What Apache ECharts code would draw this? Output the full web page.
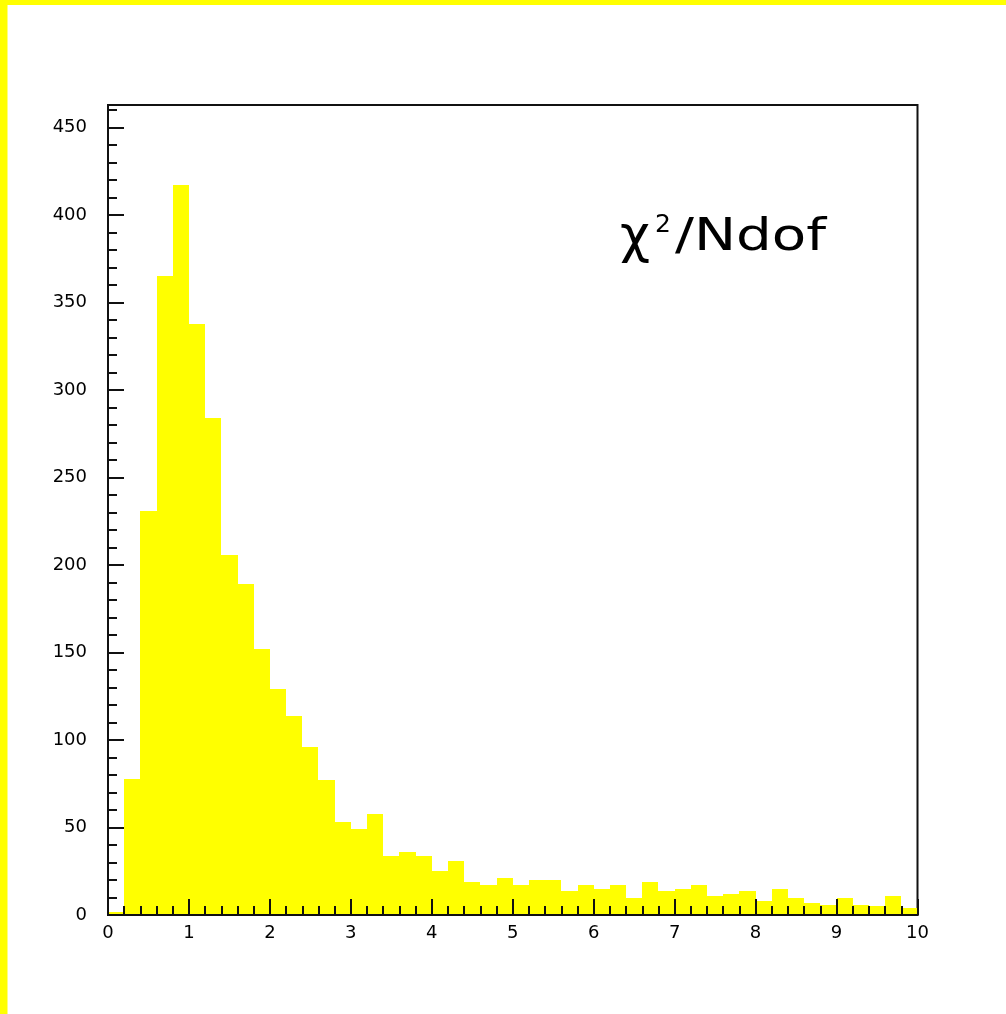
<!DOCTYPE html>
<html>
<head>
<meta charset="utf-8">
<title>chi2/Ndof distribution</title>
<script src="https://cdn.jsdelivr.net/npm/echarts@6/dist/echarts.min.js"></script>
<style>
  html, body { margin: 0; padding: 0; background: #ffffff; }
  #chart { width: 1006px; height: 1014px; }
</style>
</head>
<body>
<div id="chart"></div>
<script>
// Histogram of chi^2 / Ndof: 50 bins of width 0.2 from 0 to 10
const binLow = 0;
const binWidth = 0.2;
const counts = [
  2, 78, 231, 365, 417, 338, 284, 206, 189, 152,
  129, 114, 96, 77, 53, 49, 58, 34, 36, 34,
  25, 31, 19, 17, 21, 17, 20, 20, 14, 17,
  15, 17, 10, 19, 14, 15, 17, 11, 12, 14,
  8, 15, 10, 7, 6, 10, 6, 5, 11, 4
];
const xTickLabels = [0, 1, 2, 3, 4, 5, 6, 7, 8, 9, 10];
const yTickLabels = [0, 50, 100, 150, 200, 250, 300, 350, 400, 450];
const yMax = 463;

const bins = counts.map((c, i) => [binLow + i * binWidth, binLow + (i + 1) * binWidth, c]);

const INK = '#111111';
const FILL = '#ffff00';
const labelFont = { fontFamily: 'DejaVu Sans', fontSize: 18, color: '#000000' };

const chart = echarts.init(document.getElementById('chart'), null, { renderer: 'canvas' });

chart.setOption({
  animation: false,
  backgroundColor: '#ffffff',
  grid: {
    show: true,
    left: 108, top: 105, right: 88.5, bottom: 99,
    borderColor: INK, borderWidth: 2,
    backgroundColor: 'transparent',
    containLabel: false
  },
  xAxis: {
    type: 'value',
    z: 5,
    min: xTickLabels[0], max: xTickLabels[xTickLabels.length - 1], interval: 1,
    axisLine: { show: true, onZero: false, lineStyle: { color: INK, width: 2 } },
    axisTick: { show: true, inside: true, length: 16, lineStyle: { color: INK, width: 2 } },
    minorTick: { show: true, splitNumber: 5, length: 9, lineStyle: { color: INK, width: 2 } },
    splitLine: { show: false },
    axisLabel: Object.assign({ margin: 9, showMaxLabel: true, showMinLabel: true }, labelFont)
  },
  yAxis: [
    {
      // fine ticks every 10, labels every 50
      type: 'value',
      z: 5,
      min: 0, max: yMax, interval: 10,
      axisLine: { show: true, onZero: false, lineStyle: { color: INK, width: 2 } },
      axisTick: { show: true, inside: true, length: 9, lineStyle: { color: INK, width: 2 } },
      splitLine: { show: false },
      axisLabel: Object.assign({
        margin: 21,
        showMaxLabel: false,
        formatter: v => (yTickLabels.indexOf(v) >= 0 ? String(v) : '')
      }, labelFont)
    },
    {
      // long ticks at the labelled values
      type: 'value',
      z: 5,
      position: 'left',
      min: 0, max: yMax, interval: 10,
      axisLine: { show: false },
      axisTick: { show: true, inside: true, length: 16, customValues: yTickLabels, lineStyle: { color: INK, width: 2 } },
      splitLine: { show: false },
      axisLabel: { show: false }
    }
  ],
  series: [{
    type: 'custom',
    xAxisIndex: 0,
    yAxisIndex: 0,
    clip: true,
    data: bins,
    encode: { x: [0, 1], y: 2 },
    renderItem: function (params, api) {
      const lo = api.coord([api.value(0), 0]);
      const hi = api.coord([api.value(1), api.value(2)]);
      // snap bin edges to whole pixels so neighbouring bins meet without seams
      const x0 = Math.round(lo[0]);
      const x1 = Math.round(hi[0]);
      const yTop = Math.round(hi[1]);
      return {
        type: 'rect',
        shape: { x: x0, y: yTop, width: x1 - x0, height: lo[1] - yTop },
        style: { fill: FILL, stroke: null }
      };
    },
    z: 1
  }],
  graphic: [
    { type: 'rect', left: 0, top: 0, shape: { width: 1006, height: 5 }, style: { fill: FILL }, z: 10 },
    { type: 'rect', left: 0, top: 0, shape: { width: 7.5, height: 1014 }, style: { fill: FILL }, z: 10 },
    {
      type: 'text', x: 620, y: 238, z: 10,
      style: { text: 'χ', font: '52px "DejaVu Sans"', fill: '#000', verticalAlign: 'middle', align: 'left' }
    },
    {
      type: 'text', x: 655, y: 225, z: 10,
      style: { text: '2', font: '25px "DejaVu Sans"', fill: '#000', verticalAlign: 'middle', align: 'left' }
    },
    {
      type: 'text', x: 675, y: 239, scaleX: 1.28, z: 10,
      style: { text: '/Ndof', font: '44px "DejaVu Sans"', fill: '#000', verticalAlign: 'middle', align: 'left' }
    }
  ]
});
</script>
</body>
</html>
